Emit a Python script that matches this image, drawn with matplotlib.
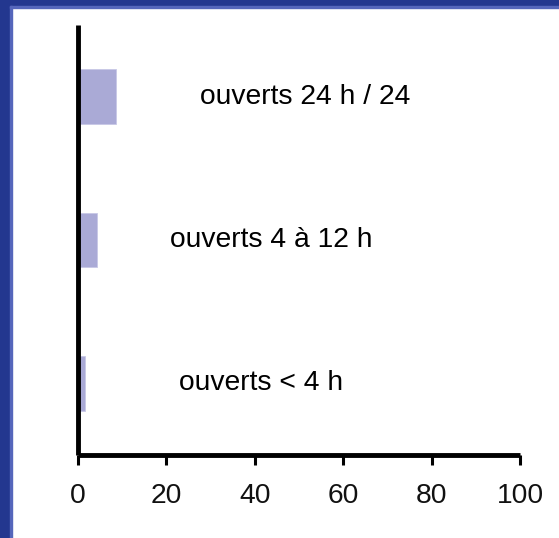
import matplotlib
matplotlib.use("Agg")
import matplotlib.pyplot as plt
from matplotlib.patches import Rectangle

# data
categories = ["ouverts < 4 h", "ouverts 4 à 12 h", "ouverts 24 h / 24"]
values = [1.6, 4.2, 8.6]
xticks = [0, 20, 40, 60, 80, 100]

# where the category labels sit along the x axis
label_x = [41.5, 43.7, 51.4]

plt.rcParams['font.family'] = ['Liberation Sans', 'DejaVu Sans']

fig = plt.figure(figsize=(5.59, 5.38), dpi=100)
ax = fig.add_axes([78 / 559, 83 / 538, 442 / 559, 430 / 538])

bar_col = '#AAAAD6'
ypos = range(len(categories))
ax.barh(ypos, values, height=0.38, color=bar_col, edgecolor='#C8C8E6', linewidth=0.6)

for y, name, lx in zip(ypos, categories, label_x):
    ax.text(lx, y, name, ha='center', va='center', fontsize=20.3, color='black')

ax.set_xlim(0, 100)
ax.set_ylim(-0.5, 2.5)
ax.set_xticks(xticks)
ax.set_xticklabels([str(v) for v in xticks], fontsize=20.3, color='#111111')
ax.set_yticks([])
ax.tick_params(axis='x', direction='out', length=7, width=2.2, pad=13)

for side in ['top', 'right']:
    ax.spines[side].set_visible(False)
for side in ['left', 'bottom']:
    ax.spines[side].set_linewidth(3.5)
    ax.spines[side].set_color('black')
    ax.spines[side].set_capstyle('butt')

# blue frame on left and top
blue = '#23378F'
fig.patches.append(Rectangle((0, 0), 10 / 559, 1, transform=fig.transFigure,
                             color=blue, zorder=0))
fig.patches.append(Rectangle((0, 1 - 6 / 538), 1, 6 / 538, transform=fig.transFigure,
                             color=blue, zorder=0))
fig.patches.append(Rectangle((10 / 559, 0), 1.5 / 559, 1 - 6 / 538, transform=fig.transFigure,
                             color='#5566BB', zorder=0))
fig.patches.append(Rectangle((10 / 559, 1 - 7.5 / 538), 1, 1.5 / 538, transform=fig.transFigure,
                             color='#5566BB', zorder=0))

fig.savefig('out.png', dpi=100)
